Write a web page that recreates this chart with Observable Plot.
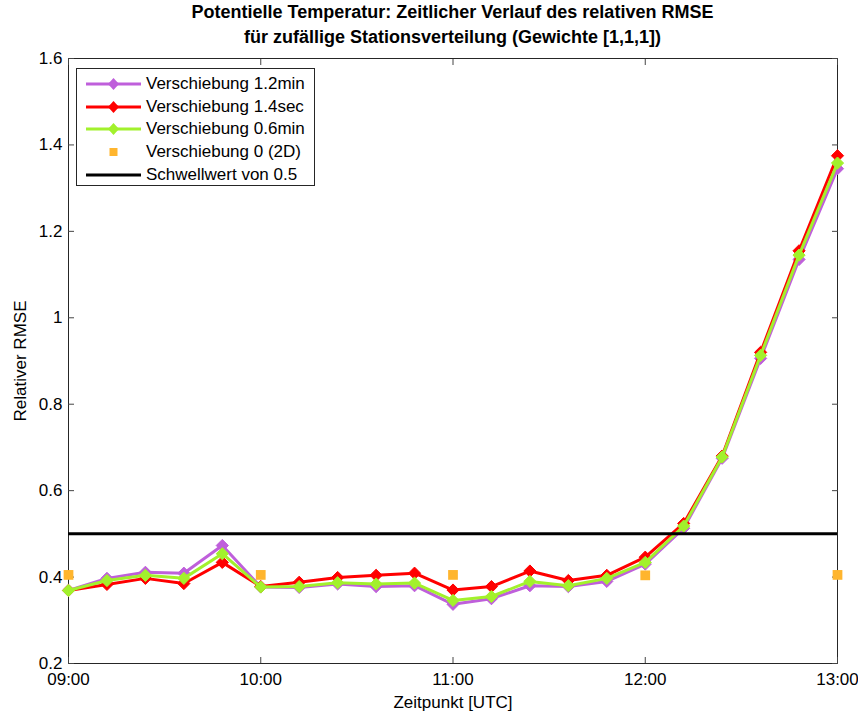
<!DOCTYPE html>
<html>
<head>
<meta charset="utf-8">
<script src="https://cdn.jsdelivr.net/npm/d3@7"></script>
<script src="https://cdn.jsdelivr.net/npm/@observablehq/plot@0.6"></script>
<style>
  body { margin: 0; background: #fff; font-family: "Liberation Sans", Arial, sans-serif; }
  #wrap { position: relative; width: 858px; height: 713px; }
  #title { height: 50px; box-sizing: border-box; padding-left: 47px; padding-top: 0;
           text-align: center; font-weight: bold; font-size: 18px; line-height: 25px; color: #000; }
  #legend { position: absolute; left: 76px; top: 68px; width: 239px; height: 118px;
            border: 1px solid #262626; background: #fff; box-sizing: border-box; }
  #legend .item { position: absolute; left: 0; height: 22px; display: flex; align-items: center;
                  font-size: 17px; color: #000; white-space: nowrap; }
  #legend svg { display: block; margin-left: 9px; margin-right: 5px; }
</style>
</head>
<body>
<div id="wrap">
  <div id="title">Potentielle Temperatur: Zeitlicher Verlauf des relativen RMSE<br>für zufällige Stationsverteilung (Gewichte [1,1,1])</div>
  <div id="chart"></div>
  <div id="legend"></div>
</div>
<script>
// Zeitpunkte (alle 12 Minuten)
const times = ["09:00","09:12","09:24","09:36","09:48","10:00","10:12","10:24","10:36","10:48",
               "11:00","11:12","11:24","11:36","11:48","12:00","12:12","12:24","12:36","12:48","13:00"];

// Relativer RMSE je Verschiebung
const shift12min = [0.369,0.397,0.411,0.409,0.473,0.377,0.376,0.384,0.378,0.380,
                    0.337,0.350,0.380,0.378,0.390,0.430,0.513,0.675,0.906,1.135,1.345];
const shift14sec = [0.369,0.383,0.397,0.385,0.434,0.378,0.388,0.399,0.404,0.409,
                    0.370,0.378,0.414,0.392,0.404,0.446,0.524,0.680,0.920,1.155,1.375];
const shift06min = [0.369,0.392,0.404,0.397,0.454,0.377,0.378,0.387,0.384,0.386,
                    0.346,0.355,0.390,0.380,0.397,0.434,0.518,0.678,0.913,1.145,1.358];

// Verschiebung 0 (2D): nur zu vollen Stunden
const times2D = ["09:00","10:00","11:00","12:00","13:00"];
const shift2D = [0.405,0.405,0.405,0.404,0.405];

const threshold = 0.5;

const yTicks = [0.2,0.4,0.6,0.8,1.0,1.2,1.4,1.6];
const xTickLabels = ["09:00","10:00","11:00","12:00","13:00"];

const parse = d3.utcParse("%H:%M");
const series = [
  {name: "Verschiebung 1.2min", color: "#bf5fdb", values: shift12min},
  {name: "Verschiebung 1.4sec", color: "#ff0000", values: shift14sec},
  {name: "Verschiebung 0.6min", color: "#a2f12c", values: shift06min}
];
const color2D = "#ffb52e";

const xTicks = xTickLabels.map(parse);
const rowsOf = s => times.map((t, i) => ({t: parse(t), v: s.values[i]}));
const rows2D = times2D.map((t, i) => ({t: parse(t), v: shift2D[i]}));

const font = {fontFamily: "'Liberation Sans', Arial, sans-serif", fontSize: "17px", color: "#000"};
const tickColor = "#444";
const noLabel = () => "";

const seriesMarks = series.flatMap(s => [
  Plot.line(rowsOf(s), {x: "t", y: "v", stroke: s.color, strokeWidth: 3, strokeLinejoin: "miter"}),
  Plot.dot(rowsOf(s), {x: "t", y: "v", symbol: "diamond2", r: 5.5, fill: s.color, stroke: s.color, strokeWidth: 1})
]);

const chart = Plot.plot({
  width: 858,
  height: 663,
  marginTop: 8,
  marginBottom: 50,
  marginLeft: 68,
  marginRight: 21,
  style: font,
  x: {type: "utc", domain: [parse("09:00"), parse("13:00")]},
  y: {domain: [0.2, 1.6]},
  marks: [
    Plot.frame({stroke: "#262626"}),
    // inward ticks on all four sides
    Plot.axisX({ticks: xTicks, tickSize: -6, tickFormat: noLabel, stroke: tickColor, label: null}),
    Plot.axisX({anchor: "top", ticks: xTicks, tickSize: -6, tickFormat: noLabel, stroke: tickColor, label: null}),
    Plot.axisY({ticks: yTicks, tickSize: -6, tickFormat: noLabel, stroke: tickColor, label: null}),
    Plot.axisY({anchor: "right", ticks: yTicks, tickSize: -6, tickFormat: noLabel, stroke: tickColor, label: null}),
    // tick labels and axis titles
    Plot.axisX({ticks: xTicks, tickSize: 0, tickPadding: 9, tickFormat: d3.utcFormat("%H:%M"),
                label: "Zeitpunkt [UTC]", labelAnchor: "center", labelOffset: 44, labelArrow: "none"}),
    Plot.axisY({ticks: yTicks, tickSize: 0, tickPadding: 6, tickFormat: d => String(+d.toFixed(1)),
                label: "Relativer RMSE", labelAnchor: "center", labelOffset: 55, labelArrow: "none"}),
    ...seriesMarks,
    Plot.dot(rows2D, {x: "t", y: "v", symbol: "square", r: 5.5, fill: color2D}),
    Plot.ruleY([threshold], {stroke: "#000", strokeWidth: 3})
  ]
});
document.getElementById("chart").appendChild(chart);

// Legend
const legend = d3.select("#legend");
const legendItems = [
  ...series.map(s => ({name: s.name, color: s.color, line: true, marker: "diamond"})),
  {name: "Verschiebung 0 (2D)", color: color2D, line: false, marker: "square"},
  {name: "Schwellwert von " + threshold, color: "#000", line: true, marker: null}
];
legendItems.forEach((d, i) => {
  const item = legend.append("div").attr("class", "item").style("top", (4 + i * 22.7) + "px");
  const svg = item.append("svg").attr("width", 55).attr("height", 22);
  if (d.line) svg.append("line").attr("x1", 0).attr("x2", 55).attr("y1", 11).attr("y2", 11)
                 .attr("stroke", d.color).attr("stroke-width", 3);
  if (d.marker === "diamond") svg.append("path").attr("d", "M27.5,5L33,11L27.5,17L22,11Z").attr("fill", d.color);
  if (d.marker === "square") svg.append("rect").attr("x", 23.5).attr("y", 7).attr("width", 8).attr("height", 8).attr("fill", d.color);
  item.append("span").text(d.name);
});
</script>
</body>
</html>
